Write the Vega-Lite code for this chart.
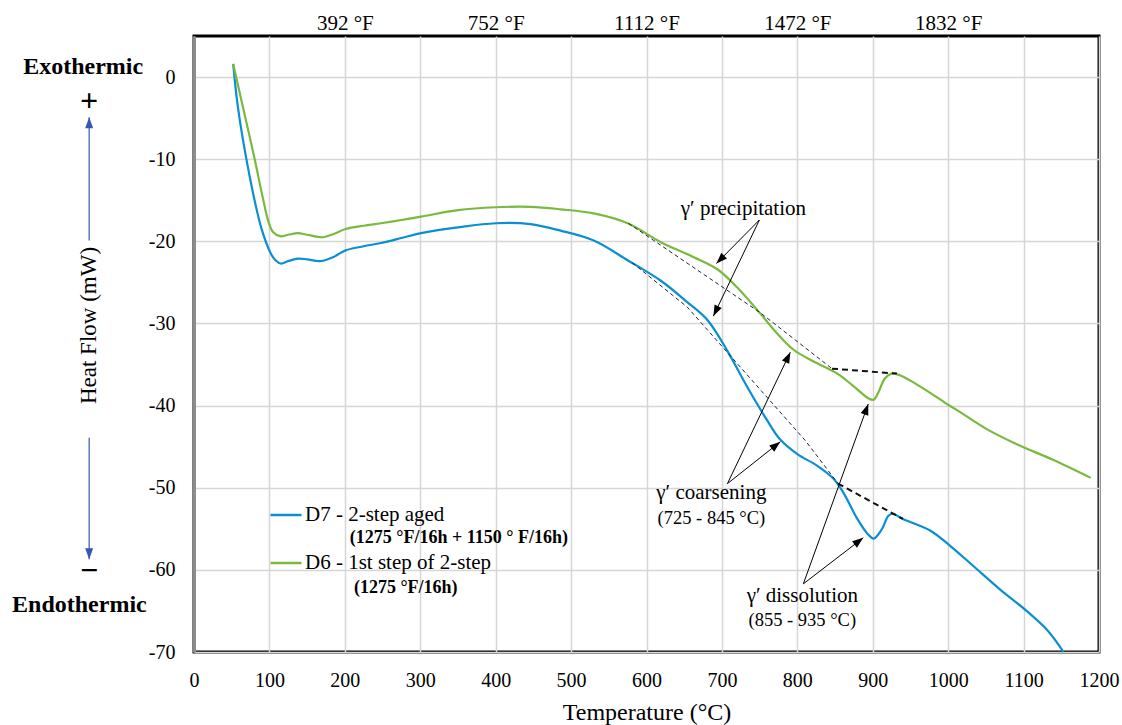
{
  "$schema": "https://vega.github.io/schema/vega-lite/v6.json",
  "width": 905,
  "height": 616,
  "autosize": "none",
  "padding": {"left": 194, "top": 36, "right": 23, "bottom": 73},
  "background": "white",
  "config": {
    "font": "Liberation Serif",
    "view": {"stroke": "#000000", "strokeWidth": 3},
    "axis": {
      "labelFont": "Liberation Serif",
      "titleFont": "Liberation Serif",
      "labelColor": "#000000",
      "titleColor": "#000000",
      "titleFontWeight": "normal",
      "gridColor": "#d6d6d6",
      "gridWidth": 1.5,
      "ticks": false,
      "tickSize": 0,
      "labelFlush": false,
      "labelOverlap": false
    },
    "legend": {"labelFont": "Liberation Serif", "labelColor": "#000000"}
  },
  "datasets": {
    "curves": [
      {"series": "D7 - 2-step aged", "T": 52, "hf": 1.6},
      {"series": "D7 - 2-step aged", "T": 58, "hf": -3.5},
      {"series": "D7 - 2-step aged", "T": 73, "hf": -11.7},
      {"series": "D7 - 2-step aged", "T": 89, "hf": -18.3},
      {"series": "D7 - 2-step aged", "T": 102, "hf": -21.5},
      {"series": "D7 - 2-step aged", "T": 108, "hf": -22.3},
      {"series": "D7 - 2-step aged", "T": 115, "hf": -22.7},
      {"series": "D7 - 2-step aged", "T": 125, "hf": -22.4},
      {"series": "D7 - 2-step aged", "T": 138, "hf": -22.1},
      {"series": "D7 - 2-step aged", "T": 150, "hf": -22.2},
      {"series": "D7 - 2-step aged", "T": 168, "hf": -22.4},
      {"series": "D7 - 2-step aged", "T": 185, "hf": -21.9},
      {"series": "D7 - 2-step aged", "T": 201, "hf": -21.1},
      {"series": "D7 - 2-step aged", "T": 225, "hf": -20.6},
      {"series": "D7 - 2-step aged", "T": 248, "hf": -20.2},
      {"series": "D7 - 2-step aged", "T": 275, "hf": -19.6},
      {"series": "D7 - 2-step aged", "T": 301, "hf": -19.0},
      {"series": "D7 - 2-step aged", "T": 350, "hf": -18.3},
      {"series": "D7 - 2-step aged", "T": 400, "hf": -17.8},
      {"series": "D7 - 2-step aged", "T": 446, "hf": -17.9},
      {"series": "D7 - 2-step aged", "T": 486, "hf": -18.7},
      {"series": "D7 - 2-step aged", "T": 530, "hf": -19.9},
      {"series": "D7 - 2-step aged", "T": 575, "hf": -22.3},
      {"series": "D7 - 2-step aged", "T": 619, "hf": -24.8},
      {"series": "D7 - 2-step aged", "T": 654, "hf": -27.4},
      {"series": "D7 - 2-step aged", "T": 681, "hf": -29.6},
      {"series": "D7 - 2-step aged", "T": 707, "hf": -33.3},
      {"series": "D7 - 2-step aged", "T": 734, "hf": -37.8},
      {"series": "D7 - 2-step aged", "T": 760, "hf": -41.8},
      {"series": "D7 - 2-step aged", "T": 777, "hf": -44.1},
      {"series": "D7 - 2-step aged", "T": 800, "hf": -45.9},
      {"series": "D7 - 2-step aged", "T": 826, "hf": -47.3},
      {"series": "D7 - 2-step aged", "T": 848, "hf": -48.9},
      {"series": "D7 - 2-step aged", "T": 861, "hf": -50.6},
      {"series": "D7 - 2-step aged", "T": 879, "hf": -53.7},
      {"series": "D7 - 2-step aged", "T": 893, "hf": -55.6},
      {"series": "D7 - 2-step aged", "T": 901, "hf": -56.2},
      {"series": "D7 - 2-step aged", "T": 908, "hf": -55.6},
      {"series": "D7 - 2-step aged", "T": 913, "hf": -54.9},
      {"series": "D7 - 2-step aged", "T": 921, "hf": -53.4},
      {"series": "D7 - 2-step aged", "T": 927, "hf": -53.2},
      {"series": "D7 - 2-step aged", "T": 940, "hf": -53.8},
      {"series": "D7 - 2-step aged", "T": 976, "hf": -55.2},
      {"series": "D7 - 2-step aged", "T": 1003, "hf": -57.1},
      {"series": "D7 - 2-step aged", "T": 1033, "hf": -59.5},
      {"series": "D7 - 2-step aged", "T": 1069, "hf": -62.4},
      {"series": "D7 - 2-step aged", "T": 1104, "hf": -65.0},
      {"series": "D7 - 2-step aged", "T": 1131, "hf": -67.3},
      {"series": "D7 - 2-step aged", "T": 1153, "hf": -70.0},
      {"series": "D6 - 1st step of 2-step", "T": 52, "hf": 1.6},
      {"series": "D6 - 1st step of 2-step", "T": 65, "hf": -3.7},
      {"series": "D6 - 1st step of 2-step", "T": 80, "hf": -9.8},
      {"series": "D6 - 1st step of 2-step", "T": 91, "hf": -14.6},
      {"series": "D6 - 1st step of 2-step", "T": 99, "hf": -17.7},
      {"series": "D6 - 1st step of 2-step", "T": 105, "hf": -18.9},
      {"series": "D6 - 1st step of 2-step", "T": 115, "hf": -19.4},
      {"series": "D6 - 1st step of 2-step", "T": 125, "hf": -19.2},
      {"series": "D6 - 1st step of 2-step", "T": 138, "hf": -19.0},
      {"series": "D6 - 1st step of 2-step", "T": 150, "hf": -19.2},
      {"series": "D6 - 1st step of 2-step", "T": 171, "hf": -19.5},
      {"series": "D6 - 1st step of 2-step", "T": 185, "hf": -19.1},
      {"series": "D6 - 1st step of 2-step", "T": 201, "hf": -18.5},
      {"series": "D6 - 1st step of 2-step", "T": 225, "hf": -18.1},
      {"series": "D6 - 1st step of 2-step", "T": 248, "hf": -17.8},
      {"series": "D6 - 1st step of 2-step", "T": 275, "hf": -17.4},
      {"series": "D6 - 1st step of 2-step", "T": 301, "hf": -17.0},
      {"series": "D6 - 1st step of 2-step", "T": 350, "hf": -16.2},
      {"series": "D6 - 1st step of 2-step", "T": 400, "hf": -15.85},
      {"series": "D6 - 1st step of 2-step", "T": 446, "hf": -15.8},
      {"series": "D6 - 1st step of 2-step", "T": 486, "hf": -16.1},
      {"series": "D6 - 1st step of 2-step", "T": 530, "hf": -16.6},
      {"series": "D6 - 1st step of 2-step", "T": 575, "hf": -17.8},
      {"series": "D6 - 1st step of 2-step", "T": 619, "hf": -20.1},
      {"series": "D6 - 1st step of 2-step", "T": 662, "hf": -21.9},
      {"series": "D6 - 1st step of 2-step", "T": 694, "hf": -23.4},
      {"series": "D6 - 1st step of 2-step", "T": 720, "hf": -25.6},
      {"series": "D6 - 1st step of 2-step", "T": 751, "hf": -28.8},
      {"series": "D6 - 1st step of 2-step", "T": 773, "hf": -31.2},
      {"series": "D6 - 1st step of 2-step", "T": 795, "hf": -33.2},
      {"series": "D6 - 1st step of 2-step", "T": 821, "hf": -34.6},
      {"series": "D6 - 1st step of 2-step", "T": 853, "hf": -36.1},
      {"series": "D6 - 1st step of 2-step", "T": 874, "hf": -37.6},
      {"series": "D6 - 1st step of 2-step", "T": 894, "hf": -39.1},
      {"series": "D6 - 1st step of 2-step", "T": 901, "hf": -39.3},
      {"series": "D6 - 1st step of 2-step", "T": 907, "hf": -38.5},
      {"series": "D6 - 1st step of 2-step", "T": 916, "hf": -36.7},
      {"series": "D6 - 1st step of 2-step", "T": 925, "hf": -36.1},
      {"series": "D6 - 1st step of 2-step", "T": 936, "hf": -36.3},
      {"series": "D6 - 1st step of 2-step", "T": 972, "hf": -38.2},
      {"series": "D6 - 1st step of 2-step", "T": 1000, "hf": -39.9},
      {"series": "D6 - 1st step of 2-step", "T": 1016, "hf": -40.8},
      {"series": "D6 - 1st step of 2-step", "T": 1050, "hf": -42.8},
      {"series": "D6 - 1st step of 2-step", "T": 1091, "hf": -44.7},
      {"series": "D6 - 1st step of 2-step", "T": 1139, "hf": -46.6},
      {"series": "D6 - 1st step of 2-step", "T": 1189, "hf": -48.8}
    ],
    "tangents": [
      {"seg": "g1", "kind": "thin", "T": 576, "hf": -17.8},
      {"seg": "g1", "kind": "thin", "T": 751, "hf": -28.7},
      {"seg": "g1", "kind": "thin", "T": 846, "hf": -35.5},
      {"seg": "g2", "kind": "thick", "T": 846, "hf": -35.5},
      {"seg": "g2", "kind": "thick", "T": 932, "hf": -36.1},
      {"seg": "b1", "kind": "thin", "T": 581, "hf": -22.6},
      {"seg": "b1", "kind": "thin", "T": 654, "hf": -28.0},
      {"seg": "b1", "kind": "thin", "T": 811, "hf": -44.3},
      {"seg": "b1", "kind": "thin", "T": 854, "hf": -49.5},
      {"seg": "b2", "kind": "thick", "T": 854, "hf": -49.5},
      {"seg": "b2", "kind": "thick", "T": 940, "hf": -53.8}
    ],
    "arrows": [
      {"group": "note", "T": 749.7, "hf": -17.4, "T2": 692.7, "hf2": -22.7},
      {"group": "note", "T": 749.7, "hf": -17.4, "T2": 688.7, "hf2": -29.1},
      {"group": "note", "T": 707.3, "hf": -49.5, "T2": 777.5, "hf2": -44.4},
      {"group": "note", "T": 707.3, "hf": -49.5, "T2": 790.7, "hf2": -33.5},
      {"group": "note", "T": 808, "hf": -61.7, "T2": 887.4, "hf2": -56.1},
      {"group": "note", "T": 808, "hf": -61.7, "T2": 894, "hf2": -39.8},
      {"group": "side", "T": -139, "hf": -19.9, "T2": -139, "hf2": -4.9},
      {"group": "side", "T": -139, "hf": -43.9, "T2": -139, "hf2": -58.7}
    ],
    "texts": [
      {"style": "note", "T": 728.5, "hf": -16.1, "text": "γ′ precipitation"},
      {"style": "note", "T": 686, "hf": -50.7, "text": "γ′ coarsening"},
      {"style": "note", "T": 806.6, "hf": -63.2, "text": "γ′ dissolution"},
      {"style": "range", "T": 686, "hf": -53.7, "text": "(725 - 845 °C)"},
      {"style": "range", "T": 806.6, "hf": -66.1, "text": "(855 - 935 °C)"},
      {"style": "legendsub", "T": 206.6, "hf": -56.1, "text": "(1275 °F/16h + 1150 ° F/16h)"},
      {"style": "legendsub", "T": 212, "hf": -62.2, "text": "(1275 °F/16h)"},
      {"style": "side", "T": -147, "hf": 1.2, "text": "Exothermic"},
      {"style": "side", "T": -152, "hf": -64.3, "text": "Endothermic"},
      {"style": "sign", "T": -139, "hf": -2.9, "text": "+"},
      {"style": "sign", "T": -139, "hf": -60.1, "text": "−"}
    ]
  },
  "resolve": {"axis": {"x": "independent"}},
  "layer": [
    {
      "data": {"name": "curves"},
      "mark": {"type": "line", "strokeWidth": 2.2, "interpolate": "catmull-rom"},
      "encoding": {
        "x": {
          "field": "T", "type": "quantitative",
          "scale": {"domain": [0, 1200], "nice": false, "zero": false},
          "axis": {
            "orient": "bottom",
            "values": [0, 100, 200, 300, 400, 500, 600, 700, 800, 900, 1000, 1100, 1200],
            "labelExpr": "datum.value + ''",
            "grid": true, "domain": false,
            "labelFontSize": 20, "labelPadding": 34, "labelBaseline": "alphabetic",
            "title": "Temperature (°C)", "titleFontSize": 24,
            "titleY": 67, "titleBaseline": "alphabetic"
          }
        },
        "y": {
          "field": "hf", "type": "quantitative",
          "scale": {"domain": [-70, 5], "nice": false, "zero": false},
          "axis": {
            "values": [-70, -60, -50, -40, -30, -20, -10, 0],
            "labelExpr": "datum.value + ''",
            "grid": true, "domain": true, "domainColor": "#8c8c8c", "domainWidth": 3,
            "labelFontSize": 20, "labelPadding": 19, "labelBaseline": "middle",
            "title": "Heat Flow (mW)", "titleFontSize": 23,
            "titleX": -106, "titleY": 289, "titleAngle": -90,
            "titleAlign": "center", "titleBaseline": "middle"
          }
        },
        "color": {
          "field": "series", "type": "nominal",
          "scale": {"domain": ["D7 - 2-step aged", "D6 - 1st step of 2-step"], "range": ["#0a8fd2", "#7ab93f"]},
          "legend": {
            "title": null, "orient": "none", "legendX": 75, "legendY": 462,
            "symbolType": "stroke", "symbolSize": 961, "symbolStrokeWidth": 2.5,
            "labelFontSize": 21, "labelOffset": 2, "labelLimit": 0, "rowPadding": 21, "padding": 0
          }
        }
      }
    },
    {
      "data": {"name": "tangents"},
      "transform": [{"filter": "datum.kind === 'thin'"}],
      "mark": {"type": "line", "color": "#1c2448", "strokeWidth": 1, "strokeDash": [4, 3]},
      "encoding": {
        "x": {
          "field": "T", "type": "quantitative",
          "axis": {
            "orient": "top", "values": [200, 400, 600, 800, 1000],
            "labelExpr": "format(datum.value * 9 / 5 + 32, 'd') + ' °F'",
            "grid": false, "domain": false, "labelFontSize": 21,
            "labelPadding": 7, "labelBaseline": "alphabetic", "title": null
          }
        },
        "y": {"field": "hf", "type": "quantitative"},
        "detail": {"field": "seg"}
      }
    },
    {
      "data": {"name": "tangents"},
      "transform": [{"filter": "datum.kind === 'thick'"}],
      "mark": {"type": "line", "color": "#111111", "strokeWidth": 2, "strokeDash": [6, 4]},
      "encoding": {
        "x": {"field": "T", "type": "quantitative", "axis": null},
        "y": {"field": "hf", "type": "quantitative"},
        "detail": {"field": "seg"}
      }
    },
    {
      "data": {"name": "arrows"},
      "transform": [{"filter": "datum.group === 'note'"}],
      "mark": {"type": "rule", "color": "#000000", "strokeWidth": 1},
      "encoding": {
        "x": {"field": "T", "type": "quantitative", "axis": null},
        "y": {"field": "hf", "type": "quantitative"},
        "x2": {"field": "T2"},
        "y2": {"field": "hf2"}
      }
    },
    {
      "data": {"name": "arrows"},
      "transform": [{"filter": "datum.group === 'side'"}],
      "mark": {"type": "rule", "color": "#3557b0", "strokeWidth": 1.2},
      "encoding": {
        "x": {"field": "T", "type": "quantitative", "axis": null},
        "y": {"field": "hf", "type": "quantitative"},
        "x2": {"field": "T2"},
        "y2": {"field": "hf2"}
      }
    },
    {
      "data": {"name": "arrows"},
      "transform": [
        {"calculate": "atan2((datum.T2 - datum.T) * 0.7542, (datum.hf2 - datum.hf) * 8.213) * 180 / PI", "as": "ang"}
      ],
      "mark": {"type": "point", "shape": "M0,0L-0.4,1.1L0.4,1.1Z", "filled": true, "size": 400, "opacity": 1},
      "encoding": {
        "x": {"field": "T2", "type": "quantitative", "axis": null},
        "y": {"field": "hf2", "type": "quantitative"},
        "angle": {"field": "ang", "type": "quantitative", "scale": null},
        "fill": {"condition": {"test": "datum.group === 'side'", "value": "#3557b0"}, "value": "#000000"},
        "stroke": {"value": null}
      }
    },
    {
      "data": {"name": "texts"},
      "transform": [{"filter": "datum.style === 'note'"}],
      "mark": {"type": "text", "font": "Liberation Serif", "fontSize": 21, "color": "#000000", "align": "center", "baseline": "middle"},
      "encoding": {
        "x": {"field": "T", "type": "quantitative", "axis": null},
        "y": {"field": "hf", "type": "quantitative"},
        "text": {"field": "text"}
      }
    },
    {
      "data": {"name": "texts"},
      "transform": [{"filter": "datum.style === 'range'"}],
      "mark": {"type": "text", "font": "Liberation Serif", "fontSize": 18.5, "color": "#000000", "align": "center", "baseline": "middle"},
      "encoding": {
        "x": {"field": "T", "type": "quantitative", "axis": null},
        "y": {"field": "hf", "type": "quantitative"},
        "text": {"field": "text"}
      }
    },
    {
      "data": {"name": "texts"},
      "transform": [{"filter": "datum.style === 'legendsub'"}],
      "mark": {"type": "text", "font": "Liberation Serif", "fontSize": 18, "fontWeight": "bold", "color": "#000000", "align": "left", "baseline": "middle"},
      "encoding": {
        "x": {"field": "T", "type": "quantitative", "axis": null},
        "y": {"field": "hf", "type": "quantitative"},
        "text": {"field": "text"}
      }
    },
    {
      "data": {"name": "texts"},
      "transform": [{"filter": "datum.style === 'side'"}],
      "mark": {"type": "text", "font": "Liberation Serif", "fontSize": 24, "fontWeight": "bold", "color": "#000000", "align": "center", "baseline": "middle"},
      "encoding": {
        "x": {"field": "T", "type": "quantitative", "axis": null},
        "y": {"field": "hf", "type": "quantitative"},
        "text": {"field": "text"}
      }
    },
    {
      "data": {"name": "texts"},
      "transform": [{"filter": "datum.style === 'sign'"}],
      "mark": {"type": "text", "font": "Liberation Serif", "fontSize": 32, "fontWeight": "bold", "color": "#000000", "align": "center", "baseline": "middle"},
      "encoding": {
        "x": {"field": "T", "type": "quantitative", "axis": null},
        "y": {"field": "hf", "type": "quantitative"},
        "text": {"field": "text"}
      }
    }
  ]
}
